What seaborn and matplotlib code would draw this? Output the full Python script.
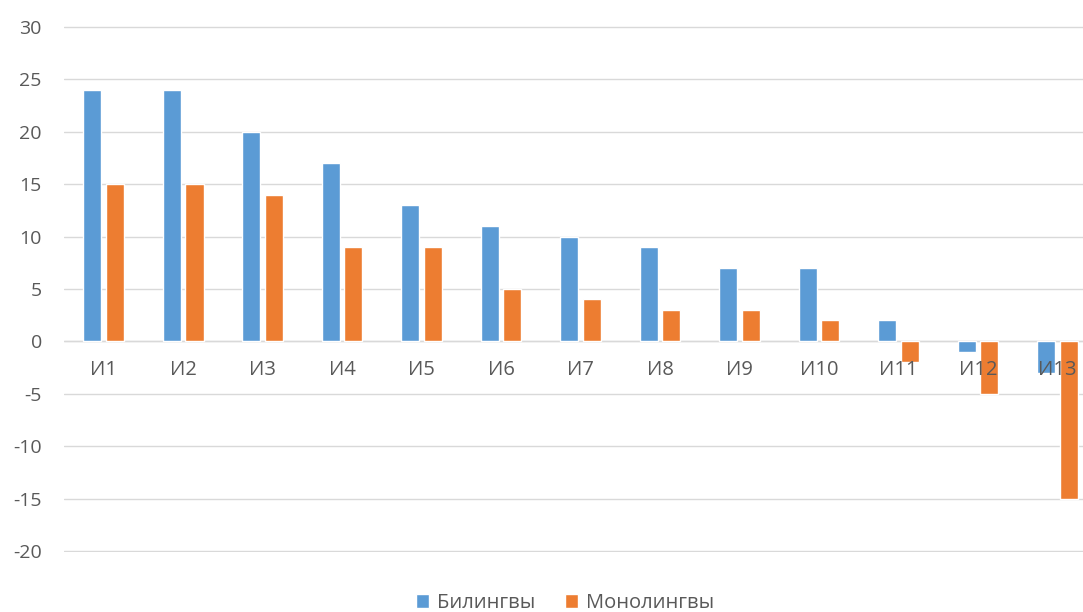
import matplotlib
matplotlib.use("Agg")
import matplotlib.pyplot as plt
import pandas as pd
import seaborn as sns

categories = ["И1", "И2", "И3", "И4", "И5", "И6", "И7", "И8", "И9", "И10", "И11", "И12", "И13"]
bilingual = [24, 24, 20, 17, 13, 11, 10, 9, 7, 7, 2, -1, -3]
monolingual = [15, 15, 14, 9, 9, 5, 4, 3, 3, 2, -2, -5, -15]
series_names = ["Билингвы", "Монолингвы"]
yticks = [30, 25, 20, 15, 10, 5, 0, -5, -10, -15, -20]

COLORS = {"Билингвы": "#5B9BD5", "Монолингвы": "#ED7D31"}
TEXT = "#595959"

sns.set_theme(style="white")
plt.rcParams["font.family"] = ["Open Sans", "DejaVu Sans"]
plt.rcParams["axes.unicode_minus"] = False

df = pd.DataFrame({
    "cat": categories * 2,
    "value": bilingual + monolingual,
    "series": [series_names[0]] * len(categories) + [series_names[1]] * len(categories),
})

fig = plt.figure(figsize=(10.83, 6.12), dpi=100)
ax = fig.add_axes([64 / 1083, 1 - 552 / 612, 1 - 64 / 1083, (552 - 26) / 612])

sns.barplot(
    data=df, x="cat", y="value", hue="series", order=categories,
    hue_order=series_names, palette=COLORS, width=0.567, gap=0.2,
    saturation=1, ax=ax, legend=True,
)

ax.set_ylim(-20.1, 30.1)
ax.set_xlim(-0.5, 12.32)
ax.set_yticks(yticks)
ax.yaxis.grid(True, color="#D9D9D9", linewidth=1)
ax.set_axisbelow(True)
ax.axhline(0, color="#D9D9D9", linewidth=1, zorder=0.5)
for s in ax.spines.values():
    s.set_visible(False)
ax.tick_params(axis="y", length=0, pad=16, labelsize=14, labelcolor=TEXT)
ax.set_xticks([])
ax.set_xlabel("")
ax.set_ylabel("")

# category labels sit just under the zero line
for i, c in enumerate(categories):
    ax.text(i, -2.7, c, ha="center", va="center", fontsize=14.5, color=TEXT)

handles, labels = ax.get_legend_handles_labels()
ax.legend(
    handles, labels, loc="center", bbox_to_anchor=(565 / 1083, 1 - 603 / 612),
    bbox_transform=fig.transFigure, ncol=2, frameon=False, fontsize=14.5,
    handlelength=0.65, handleheight=0.65, handletextpad=0.4, columnspacing=1.5,
    labelcolor=TEXT,
)

fig.savefig("out.png", dpi=100)
